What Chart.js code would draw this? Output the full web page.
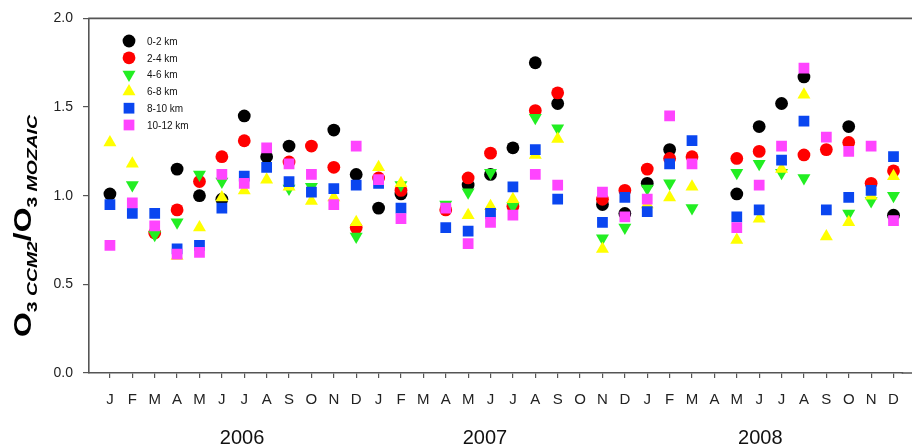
<!DOCTYPE html>
<html>
<head>
<meta charset="utf-8">
<script src="https://cdn.jsdelivr.net/npm/chart.js@4.4.1/dist/chart.umd.min.js"></script>
<style>
  html, body { margin: 0; padding: 0; background: #fff; }
  #wrap { width: 912px; height: 444px; }
</style>
</head>
<body>
<div id="wrap"><canvas id="ratioChart" width="912" height="444"></canvas></div>
<script>
// month letters repeat for 2006-2008, 36 slots (index 0 = Jan 2006)
const monthLetters = ["J", "F", "M", "A", "M", "J", "J", "A", "S", "O", "N", "D"];
const yearLabels = ["2006", "2007", "2008"];
const seriesNames = ["0-2 km", "2-4 km", "4-6 km", "6-8 km", "8-10 km", "10-12 km"];

const ratio0to2 = [1.01, null, null, 1.15, 1.00, 0.98, 1.45, 1.22, 1.28, null, 1.37, 1.12,
  0.93, 1.01, null, null, 1.06, 1.12, 1.27, 1.75, 1.52, null, 0.95, 0.90,
  1.07, 1.26, null, null, 1.01, 1.39, 1.52, 1.67, null, 1.39, null, 0.89];
const ratio2to4 = [null, null, 0.79, 0.92, 1.08, 1.22, 1.31, null, 1.19, 1.28, 1.16, 0.82,
  1.10, 1.03, null, 0.92, 1.10, 1.24, 0.94, 1.48, 1.58, null, 0.98, 1.03,
  1.15, 1.21, 1.22, null, 1.21, 1.25, null, 1.23, 1.26, 1.30, 1.07, 1.14];
const ratio4to6 = [null, 1.06, 0.78, 0.85, 1.12, 1.08, null, null, 1.04, 1.05, null, 0.77,
  null, 1.06, null, 0.95, 1.02, 1.13, 0.94, 1.44, 1.38, null, 0.76, 0.82,
  1.04, 1.07, 0.93, null, 1.13, 1.18, 1.13, 1.10, null, 0.90, 0.97, 1.00];
const ratio6to8 = [1.30, 1.18, null, 0.66, 0.82, 0.99, 1.03, 1.09, 1.05, 0.97, 0.99, 0.85,
  1.16, 1.07, null, null, 0.89, 0.94, 0.98, 1.23, 1.32, null, 0.70, null,
  0.95, 0.99, 1.05, null, 0.75, 0.87, 1.15, 1.57, 0.77, 0.85, 1.00, 1.11];
const ratio8to10 = [0.95, 0.90, 0.90, 0.70, 0.72, 0.93, 1.11, 1.16, 1.08, 1.02, 1.04, 1.06,
  1.07, 0.93, null, 0.82, 0.80, 0.90, 1.05, 1.26, 0.98, null, 0.85, 0.99,
  0.91, 1.18, 1.31, null, 0.88, 0.92, 1.20, 1.42, 0.92, 0.99, 1.03, 1.22];
const ratio10to12 = [0.72, 0.96, 0.83, 0.67, 0.68, 1.12, 1.07, 1.27, 1.18, 1.12, 0.95, 1.28,
  1.09, 0.87, null, 0.93, 0.73, 0.85, 0.89, 1.12, 1.06, null, 1.02, 0.88,
  0.98, 1.45, 1.18, null, 0.82, 1.06, 1.28, 1.72, 1.33, 1.25, 1.28, 0.86];

const allSeries = [ratio0to2, ratio2to4, ratio4to6, ratio6to8, ratio8to10, ratio10to12];
const colors = ["#000000", "#ff0000", "#22ee22", "#ffff00", "#0a46f0", "#ff44ff"];
const styles = ["circle", "circle", "triangle", "triangle", "rect", "rect"];
const rotations = [0, 0, 180, 0, 0, 0];
const radii = [6.4, 6.4, 7.5, 7.5, 7.6, 7.6];

const AXIS_COLOR = "#555555";
const FONT = "'Liberation Sans', Arial, sans-serif";

function toPoints(values) {
  const pts = [];
  values.forEach((v, i) => {
    if (v !== null) pts.push({ x: i, y: v });
  });
  return pts;
}

// legend sits inside the plot, top-left
const insideLegend = {
  id: "insideLegend",
  afterDatasetsDraw(chart) {
    const ctx = chart.ctx;
    ctx.save();
    ctx.font = "10px " + FONT;
    ctx.textBaseline = "middle";
    seriesNames.forEach((name, i) => {
      const y = 41 + i * 16.8;
      ctx.fillStyle = colors[i];
      Chart.helpers.drawPoint(ctx, {
        pointStyle: styles[i], radius: radii[i], rotation: rotations[i], borderWidth: 0,
      }, 129, y);
      ctx.fillStyle = "#111";
      ctx.fillText(name, 147, y + 1);
    });
    ctx.restore();
  },
};

// top frame line, x axis carried to the edge, year names under the months
const frameAndYears = {
  id: "frameAndYears",
  afterDraw(chart) {
    const ctx = chart.ctx;
    const a = chart.chartArea;
    const xs = chart.scales.x;
    ctx.save();
    ctx.strokeStyle = AXIS_COLOR;
    ctx.lineWidth = 1.6;
    ctx.beginPath();
    ctx.moveTo(a.left - 0.8, a.top);
    ctx.lineTo(chart.width, a.top);
    ctx.moveTo(a.right - 1, a.bottom);
    ctx.lineTo(chart.width, a.bottom);
    ctx.stroke();

    const spots = [5.9, 16.75, 29.05];
    ctx.font = "20px " + FONT;
    ctx.fillStyle = "#111";
    ctx.textAlign = "center";
    ctx.textBaseline = "middle";
    yearLabels.forEach((t, i) => ctx.fillText(t, xs.getPixelForValue(spots[i]), 438));
    ctx.restore();
  },
};

// rotated y title with subscripts: O3 CCM2 / O3 MOZAIC
const yTitle = {
  id: "yTitle",
  afterDraw(chart) {
    const ctx = chart.ctx;
    const big = "bold 23px " + FONT;
    const small = "bold 14px " + FONT;
    const smallIt = "italic bold 14px " + FONT;
    const parts = [
      { t: "O", f: big, dy: 0 },
      { t: "3 ", f: small, dy: 6 },
      { t: "CCM2", f: smallIt, dy: 6 },
      { t: "/", f: big, dy: 0 },
      { t: "O", f: big, dy: 0 },
      { t: "3 ", f: small, dy: 6 },
      { t: "MOZAIC", f: smallIt, dy: 6 },
    ];
    ctx.save();
    let total = 0;
    parts.forEach((p) => { ctx.font = p.f; p.w = ctx.measureText(p.t).width; total += p.w; });
    const stretch = 222 / total;
    ctx.translate(31, 226);
    ctx.rotate(-Math.PI / 2);
    ctx.scale(stretch, 1);
    ctx.fillStyle = "#000";
    ctx.textBaseline = "alphabetic";
    let x = -total / 2;
    parts.forEach((p) => {
      ctx.font = p.f;
      ctx.fillText(p.t, x, p.dy);
      x += p.w;
    });
    ctx.restore();
  },
};

const datasets = allSeries.map((vals, i) => ({
  label: seriesNames[i],
  data: toPoints(vals),
  pointStyle: styles[i],
  pointRotation: rotations[i],
  pointRadius: radii[i],
  pointHoverRadius: radii[i],
  backgroundColor: colors[i],
  borderColor: colors[i],
  pointBorderWidth: 0,
  showLine: false,
  order: 6 - i,
}));

new Chart(document.getElementById("ratioChart"), {
  type: "scatter",
  data: { datasets },
  options: {
    responsive: false,
    animation: false,
    devicePixelRatio: 1,
    layout: { padding: { top: 18, right: 0, left: 0, bottom: 0 } },
    plugins: {
      legend: { display: false },
      tooltip: { enabled: false },
    },
    scales: {
      x: {
        type: "linear",
        position: "bottom",
        min: -0.935,
        max: 35.41,
        afterBuildTicks: (s) => {
          s.ticks = Array.from({ length: 36 }, (_, i) => ({ value: i }));
        },
        afterFit: (s) => { s.height = 71; },
        ticks: {
          autoSkip: false,
          maxRotation: 0,
          color: "#222",
          font: { size: 15, family: FONT },
          padding: 13,
          callback: (v) => monthLetters[v % 12],
        },
        grid: { drawOnChartArea: false, tickLength: 5, color: AXIS_COLOR, lineWidth: 1.2 },
        border: { color: AXIS_COLOR, width: 1.6 },
      },
      y: {
        min: 0,
        max: 2,
        afterFit: (s) => { s.width = 89; },
        ticks: {
          stepSize: 0.5,
          color: "#222",
          font: { size: 14, family: FONT },
          padding: 10,
          callback: (v) => v.toFixed(1),
        },
        grid: { drawOnChartArea: false, tickLength: 6, color: AXIS_COLOR, lineWidth: 1.2 },
        border: { color: AXIS_COLOR, width: 1.6 },
      },
    },
  },
  plugins: [insideLegend, frameAndYears, yTitle],
});
</script>
</body>
</html>
